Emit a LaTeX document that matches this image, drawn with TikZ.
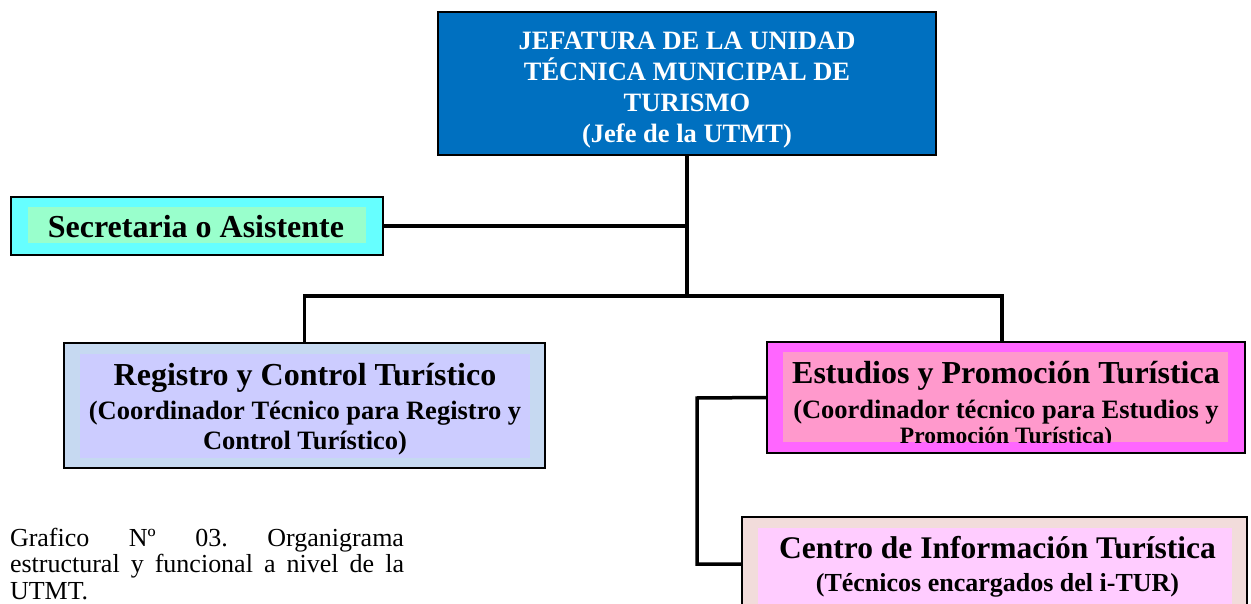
\documentclass[tikz,border=0pt]{standalone}
\usepackage{fontspec}
\setmainfont{Liberation Serif}
\usepackage{tikz}
\usetikzlibrary{calc}
\definecolor{jefeblue}{HTML}{0070C0}
\definecolor{secouter}{HTML}{66FFFF}
\definecolor{secinner}{HTML}{99FFCC}
\definecolor{regouter}{HTML}{C6D9F1}
\definecolor{reginner}{HTML}{CCCCFF}
\definecolor{estouter}{HTML}{FF66FF}
\definecolor{estinner}{HTML}{FF99CC}
\definecolor{cenouter}{HTML}{F2DCDB}
\definecolor{ceninner}{HTML}{FFCCFF}

\begin{document}
\begin{tikzpicture}[y=1pt, x=1pt, yscale=-1, inner sep=0pt, outer sep=0pt,
  orgbox/.style={draw=black, line width=1.6pt},
  link/.style={draw=black, line width=3.5pt},
  boxtext/.style={align=center, font=\bfseries\fontsize{26.5}{#1}\selectfont},
  boxtext/.default=30]
\useasboundingbox (0,0) rectangle (1251,604);

% jefatura
\node[orgbox, fill=jefeblue, minimum width=498pt, minimum height=143pt] (jefatura) at (687,83.5) {};
\node[boxtext=31, text=white] (jefaturatext) at (687,90.5)
  {JEFATURA DE LA UNIDAD\\ TÉCNICA MUNICIPAL DE\\ TURISMO\\ (Jefe de la UTMT)};

% secretaria
\node[orgbox, fill=secouter, minimum width=372pt, minimum height=58pt] (secretaria) at (197,226) {};
\path[fill=secinner] (28,207) rectangle (366,243);
\node[boxtext] (secretariatext) at (196,227)
  {\fontsize{32}{36}\selectfont Secretaria o Asistente};

% registro
\node[orgbox, fill=regouter, minimum width=481pt, minimum height=125pt] (registro) at (304.5,405.5) {};
\path[fill=reginner] (80,354) rectangle (530,458);
\node[boxtext=30] (registrotext) at (305,409)
  {\fontsize{32}{30}\selectfont Registro y Control Turístico\\[4pt]
   \fontsize{26.5}{30}\selectfont (Coordinador Técnico para Registro y\\
   Control Turístico)};

% estudios
\node[orgbox, fill=estouter, minimum width=478pt, minimum height=111pt] (estudios) at (1006,397.5) {};
\path[fill=estinner] (783,352) rectangle (1228,442);
\begin{scope}
  \clip (783,352) rectangle (1228,442);
  \node[boxtext=31] (estudiostext) at (1006,405)
    {\fontsize{32}{31}\selectfont Estudios y Promoción Turística\\[4pt]
     \fontsize{26.5}{31}\selectfont (Coordinador técnico para Estudios y\\[-6pt]
     \fontsize{23.5}{31}\selectfont Promoción Turística)};
\end{scope}

% centro
\node[orgbox, fill=cenouter, minimum width=505pt, minimum height=94pt] (centro) at (994.5,564) {};
\path[fill=ceninner] (758,528) rectangle (1232,620);
\node[boxtext=31] (centrotext) at (997.5,566.5)
  {\fontsize{31.5}{31}\selectfont Centro de Información Turística\\[2pt]
   \fontsize{26}{31}\selectfont (Técnicos encargados del i-TUR)};

% links
\coordinate (bus) at (687,296);
\coordinate (elbow) at (697,398);
\draw[link] (jefatura.south) -- (bus);
\draw[link] (secretaria.east) -- (secretaria.east -| bus);
\draw[link] (registro.north) |- (bus) -| ([xshift=-4pt]estudios.north);
\draw[link] (estudios.west) -- (elbow) |- (centro.west);

% caption
\node[anchor=north west, text width=394pt, align=justify,
  font=\fontsize{26}{26.5}\selectfont\frenchspacing] (grafico) at (10,528)
  {Grafico Nº 03. Organigrama\linebreak estructural y funcional a nivel de la\linebreak UTMT.};
\end{tikzpicture}
\end{document}
